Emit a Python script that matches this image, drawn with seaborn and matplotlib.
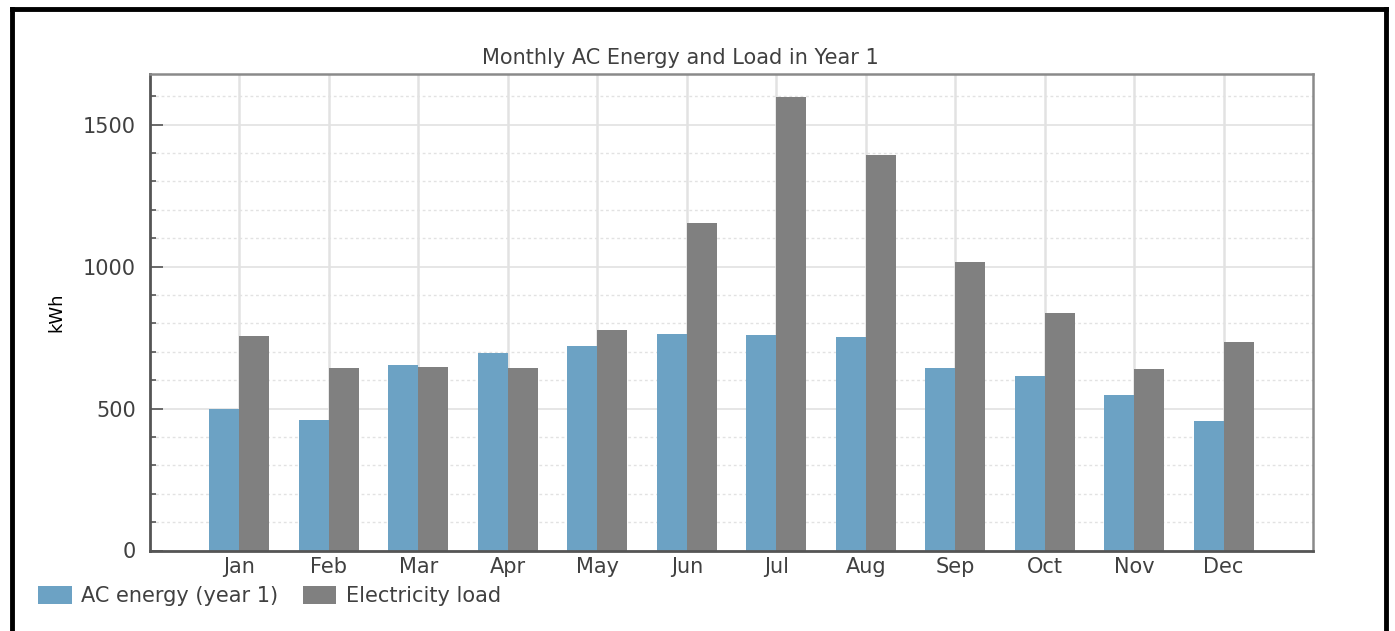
import matplotlib
matplotlib.use("Agg")
import matplotlib.pyplot as plt
from matplotlib.lines import Line2D
from matplotlib.patches import Patch
from matplotlib.ticker import MultipleLocator
import seaborn as sns
import pandas as pd

months = ["Jan", "Feb", "Mar", "Apr", "May", "Jun", "Jul", "Aug", "Sep", "Oct", "Nov", "Dec"]
ac_energy = [497, 459, 655, 694, 721, 763, 760, 751, 644, 613, 546, 456]
elec_load = [755, 644, 647, 644, 776, 1153, 1596, 1394, 1016, 837, 640, 734]
series_names = ["AC energy (year 1)", "Electricity load"]
colors = ["#6ca2c4", "#808080"]

df = pd.DataFrame({
    "month": months * 2,
    "kWh": ac_energy + elec_load,
    "series": [series_names[0]] * 12 + [series_names[1]] * 12,
})

sns.set_theme(style="white")
plt.rcParams["font.family"] = ["DejaVu Sans"]
txt = "#404040"
fs = 15

W, H = 1395, 631
fig = plt.figure(figsize=(W / 100, H / 100), dpi=100)
ax = fig.add_axes([150 / W, 1 - 550.5 / H, (1313 - 150) / W, (550.5 - 74) / H])

sns.barplot(data=df, x="month", y="kWh", hue="series", order=months,
            hue_order=series_names, palette=colors, width=0.67,
            saturation=1, linewidth=0, ax=ax)
if ax.get_legend() is not None:
    ax.get_legend().remove()

ax.set_xlim(-1, 12)
ax.set_ylim(0, 1678)
ax.yaxis.set_major_locator(MultipleLocator(500))
ax.yaxis.set_minor_locator(MultipleLocator(100))
ax.set_axisbelow(True)
ax.grid(True, which="major", axis="y", color="#e2e2e2", lw=1.2, ls="-")
ax.grid(True, which="minor", axis="y", color="#e2e2e2", lw=1.0, ls=(0, (2, 2)))
ax.grid(True, which="major", axis="x", color="#e2e2e2", lw=1.8, ls="-")

ax.tick_params(axis="y", which="major", direction="in", length=9, width=1.2,
               color="#555555", labelsize=fs, labelcolor=txt, pad=10, left=True)
ax.tick_params(axis="y", which="minor", direction="in", length=4, width=1.2,
               color="#555555", left=True)
ax.tick_params(axis="x", which="major", direction="in", length=4, width=1.5,
               color="#333333", labelsize=fs, labelcolor=txt, pad=5, bottom=True)
ax.set_xlabel("")
ax.set_ylabel("kWh", fontsize=13, color="black", labelpad=0)
ax.yaxis.set_label_coords(-85 / (1313 - 150), 0.5)

for name, sp in ax.spines.items():
    sp.set_visible(True)
    if name in ("left", "bottom"):
        sp.set_color("#555555")
        sp.set_linewidth(2.0)
    else:
        sp.set_color("#8a8a8a")
        sp.set_linewidth(1.8)

fig.text(680 / W, 1 - 58 / H, "Monthly AC Energy and Load in Year 1",
         ha="center", va="center", fontsize=fs, color=txt)

handles = [Patch(facecolor=c, edgecolor="none") for c in colors]
fig.legend(handles, series_names, loc="center left",
           bbox_to_anchor=(30 / W, 1 - 596 / H), ncol=2, frameon=False,
           fontsize=fs, labelcolor=txt, handlelength=1.6, handleheight=0.95,
           handletextpad=0.45, columnspacing=1.2, borderaxespad=0)

# outer black frame (left, top, right)
frame_kw = dict(color="black", lw=3.5, solid_capstyle="projecting")
fig.add_artist(Line2D([11.5 / W, 11.5 / W], [0, 1 - 9 / H], transform=fig.transFigure, **frame_kw))
fig.add_artist(Line2D([11.5 / W, 1386 / W], [1 - 9 / H, 1 - 9 / H], transform=fig.transFigure, **frame_kw))
fig.add_artist(Line2D([1386 / W, 1386 / W], [0, 1 - 9 / H], transform=fig.transFigure, **frame_kw))

fig.savefig("out.png", dpi=100)
